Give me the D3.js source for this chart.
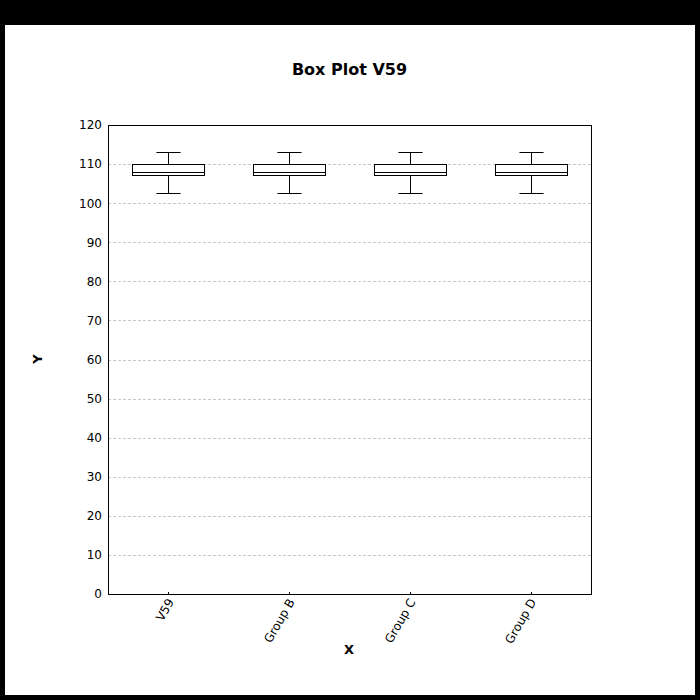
<!DOCTYPE html>
<html>
<head>
<meta charset="utf-8">
<script src="https://cdn.jsdelivr.net/npm/d3@7"></script>
<style>
  html, body { margin: 0; padding: 0; background: #000; }
  svg { display: block; }
</style>
</head>
<body>
<script>
const categories = ["V59", "Group B", "Group C", "Group D"];
const mins = [102.6, 102.6, 102.6, 102.6];
const q1s = [107.1, 107.1, 107.1, 107.1];
const medians = [108.0, 108.0, 108.0, 108.0];
const q3s = [110.0, 110.0, 110.0, 110.0];
const maxs = [113.0, 113.0, 113.0, 113.0];
const yTicks = [0, 10, 20, 30, 40, 50, 60, 70, 80, 90, 100, 110, 120];
const title = "Box Plot V59";

const W = 700, H = 700;
const plot = { left: 108, right: 591, top: 125, bottom: 594 };
const font = "'DejaVu Sans', sans-serif";

const svg = d3.select("body").append("svg").attr("width", W).attr("height", H);
svg.append("rect").attr("x", 0).attr("y", 0).attr("width", W).attr("height", H).attr("fill", "#000");
svg.append("rect").attr("x", 5).attr("y", 25).attr("width", 690).attr("height", 670).attr("fill", "#fff");

const x = d3.scaleBand().domain(categories).range([plot.left, plot.right]).padding(0);
const y = d3.scaleLinear().domain([0, 120]).range([plot.bottom, plot.top]);

// grid
svg.append("g").selectAll("line").data(yTicks.filter(t => t > 0 && t < 120)).join("line")
  .attr("x1", plot.left).attr("x2", plot.right)
  .attr("y1", d => Math.round(y(d)) + 0.5).attr("y2", d => Math.round(y(d)) + 0.5)
  .attr("stroke", "#c8c8c8").attr("stroke-width", 1).attr("stroke-dasharray", "3,2");

// y axis labels
const yAxis = d3.axisLeft(y).tickValues(yTicks).tickSize(0).tickPadding(6);
const gy = svg.append("g").attr("transform", `translate(${plot.left},0)`).call(yAxis);
gy.select(".domain").remove();
gy.selectAll("text").attr("font-family", font).attr("font-size", 12).attr("fill", "#000");

// x axis labels
const xAxis = d3.axisBottom(x).tickSize(0).tickPadding(0);
const gx = svg.append("g").attr("transform", `translate(0,${plot.bottom})`).call(xAxis);
gx.select(".domain").remove();
gx.selectAll("text")
  .attr("font-family", font).attr("font-size", 12).attr("fill", "#000")
  .attr("text-anchor", "end").attr("dy", null).attr("y", 0)
  .attr("transform", "translate(3,6) rotate(-60)")
  .attr("dominant-baseline", "middle");

// small inner ticks at category centers
svg.append("g").selectAll("line").data(categories).join("line")
  .attr("x1", d => Math.round(x(d) + x.bandwidth() / 2) + 0.5)
  .attr("x2", d => Math.round(x(d) + x.bandwidth() / 2) + 0.5)
  .attr("y1", plot.bottom - 2).attr("y2", plot.bottom)
  .attr("stroke", "#000").attr("stroke-width", 1);

// boxes
const boxW = x.bandwidth() * 0.6;
const capW = x.bandwidth() * 0.2;
const data = categories.map((c, i) => ({ c, min: mins[i], q1: q1s[i], med: medians[i], q3: q3s[i], max: maxs[i] }));
const g = svg.append("g").selectAll("g").data(data).join("g");
const cx = d => Math.round(x(d.c) + x.bandwidth() / 2) + 0.5;
const py = v => Math.round(y(v)) + 0.5;
g.append("line").attr("x1", cx).attr("x2", cx).attr("y1", d => py(d.max)).attr("y2", d => py(d.q3))
  .attr("stroke", "#000").attr("stroke-width", 1);
g.append("line").attr("x1", cx).attr("x2", cx).attr("y1", d => py(d.q1)).attr("y2", d => py(d.min))
  .attr("stroke", "#000").attr("stroke-width", 1);
g.append("line").attr("x1", d => cx(d) - capW / 2).attr("x2", d => cx(d) + capW / 2)
  .attr("y1", d => py(d.max)).attr("y2", d => py(d.max)).attr("stroke", "#000");
g.append("line").attr("x1", d => cx(d) - capW / 2).attr("x2", d => cx(d) + capW / 2)
  .attr("y1", d => py(d.min)).attr("y2", d => py(d.min)).attr("stroke", "#000");
g.append("rect")
  .attr("x", d => Math.round(cx(d) - boxW / 2) + 0.5)
  .attr("y", d => py(d.q3))
  .attr("width", Math.round(boxW))
  .attr("height", d => py(d.q1) - py(d.q3))
  .attr("fill", "#fff").attr("stroke", "#000").attr("stroke-width", 1);
g.append("line").attr("x1", d => Math.round(cx(d) - boxW / 2) + 0.5).attr("x2", d => Math.round(cx(d) - boxW / 2) + 0.5 + Math.round(boxW))
  .attr("y1", d => py(d.med)).attr("y2", d => py(d.med)).attr("stroke", "#000");

// plot border
svg.append("rect").attr("x", plot.left + 0.5).attr("y", plot.top + 0.5)
  .attr("width", plot.right - plot.left).attr("height", plot.bottom - plot.top)
  .attr("fill", "none").attr("stroke", "#000").attr("stroke-width", 1);

// title and axis labels
svg.append("text").attr("x", 349.5).attr("y", 75).attr("text-anchor", "middle")
  .attr("font-family", font).attr("font-size", 16).attr("font-weight", "bold").text(title);
svg.append("text").attr("x", 349).attr("y", 654).attr("text-anchor", "middle")
  .attr("font-family", font).attr("font-size", 13).attr("font-weight", "bold").text("X");
svg.append("text").attr("transform", "translate(42,359) rotate(-90)").attr("text-anchor", "middle")
  .attr("font-family", font).attr("font-size", 13).attr("font-weight", "bold").text("Y");
</script>
</body>
</html>
